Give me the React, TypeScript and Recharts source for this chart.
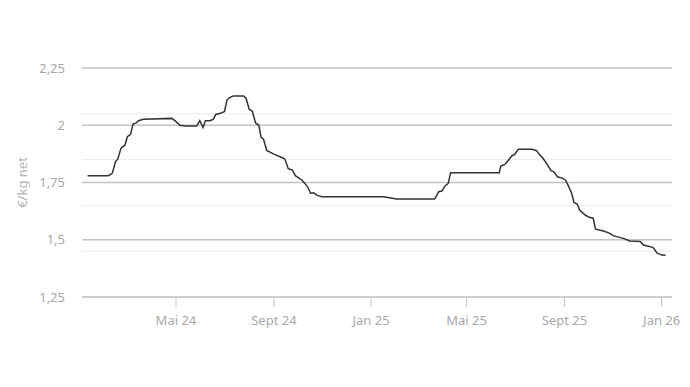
import {
  LineChart,
  Line,
  XAxis,
  YAxis,
  CartesianGrid,
} from 'recharts';

// days counted from 1 Jan 2024
const DAYS = [
  10, 36, 41, 45, 48, 52, 57, 60, 64, 67, 71, 74, 80, 116, 120, 126, 133, 147,
  151, 155, 158, 164, 168, 171, 177, 182, 185, 188, 193, 206, 209, 213, 217,
  221, 225, 228, 231, 235, 244, 256, 258, 262, 267, 271, 279, 283, 287, 290,
  294, 298, 304, 382, 398, 446, 451, 455, 459, 463, 466, 527, 529, 534, 538,
  543, 546, 551, 568, 574, 577, 582, 587, 592, 596, 600, 607, 610, 613, 618,
  621, 625, 628, 635, 640, 645, 648, 658, 666, 670, 683, 691, 704, 708, 720,
  725, 731, 736,
];

const PRICES = [
  1.78, 1.78, 1.79, 1.84, 1.853, 1.9, 1.914, 1.95, 1.96, 2.005, 2.01, 2.02,
  2.026, 2.03, 2.019, 2.0, 1.997, 1.997, 2.02, 1.99, 2.02, 2.02, 2.027, 2.047,
  2.052, 2.06, 2.11, 2.12, 2.128, 2.128, 2.118, 2.07, 2.06, 2.01, 2.001, 1.947,
  1.939, 1.89, 1.874, 1.856, 1.851, 1.81, 1.805, 1.78, 1.761, 1.746, 1.727,
  1.703, 1.705, 1.695, 1.688, 1.688, 1.678, 1.678, 1.71, 1.713, 1.735, 1.746,
  1.793, 1.793, 1.822, 1.829, 1.845, 1.867, 1.871, 1.895, 1.895, 1.889, 1.874,
  1.856, 1.83, 1.802, 1.795, 1.775, 1.768, 1.761, 1.742, 1.703, 1.662, 1.656,
  1.63, 1.608, 1.598, 1.594, 1.546, 1.538, 1.528, 1.518, 1.506, 1.495, 1.492,
  1.477, 1.467, 1.443, 1.433, 1.432,
];

const X_TICKS = [121, 244, 366, 486, 609, 731];
const X_LABELS = ['Mai 24', 'Sept 24', 'Jan 25', 'Mai 25', 'Sept 25', 'Jan 26'];

const Y_TICKS = [1.25, 1.5, 1.75, 2, 2.25];
const MINOR_LINES = [1.35, 1.45, 1.55, 1.65, 1.85, 1.95, 2.05, 2.15, 2.25];
const MAJOR_LINES = [1.5, 1.75, 2, 2.25];

const data = DAYS.map((d, i) => ({ day: d, price: PRICES[i] }));

const FONT = '"Noto Sans", sans-serif';

export default function App() {
  return (
    <div style={{ position: 'absolute', left: 0, top: 0, background: '#fff' }}>
      <LineChart
        width={690}
        height={387}
        data={data}
        margin={{ top: 68, right: 18, bottom: 60, left: 0 }}
      >
        <CartesianGrid
          vertical={false}
          horizontalValues={MINOR_LINES}
          stroke="#ececec"
          strokeWidth={1}
        />
        <CartesianGrid
          vertical={false}
          horizontalValues={MAJOR_LINES}
          stroke="#c4c4c4"
          strokeWidth={1.5}
        />
        <XAxis
          dataKey="day"
          type="number"
          domain={[3, 744]}
          ticks={X_TICKS}
          tickFormatter={(v: number) => X_LABELS[X_TICKS.indexOf(v)]}
          height={30}
          tickSize={10}
          tickMargin={9}
          axisLine={{ stroke: '#bdbdbd', strokeWidth: 1.5 }}
          tickLine={{ stroke: '#c4c4c4' }}
          tick={{ fill: '#a8a8a8', fontSize: 13, fontFamily: FONT }}
        />
        <YAxis
          type="number"
          domain={[1.25, 2.25]}
          ticks={Y_TICKS}
          tickFormatter={(v: number) => String(v).replace('.', ',')}
          width={82}
          axisLine={false}
          tickLine={false}
          tickSize={6}
          tickMargin={11}
          tick={{ fill: '#a8a8a8', fontSize: 13, fontFamily: FONT }}
          label={{
            value: '€/kg net',
            angle: -90,
            position: 'insideLeft',
            offset: 22,
            style: {
              textAnchor: 'middle',
              fill: '#b4b4b4',
              fontSize: 13,
              fontFamily: FONT,
            },
          }}
        />
        <Line
          type="linear"
          dataKey="price"
          stroke="#333333"
          strokeWidth={1.5}
          dot={false}
          isAnimationActive={false}
        />
      </LineChart>
    </div>
  );
}
